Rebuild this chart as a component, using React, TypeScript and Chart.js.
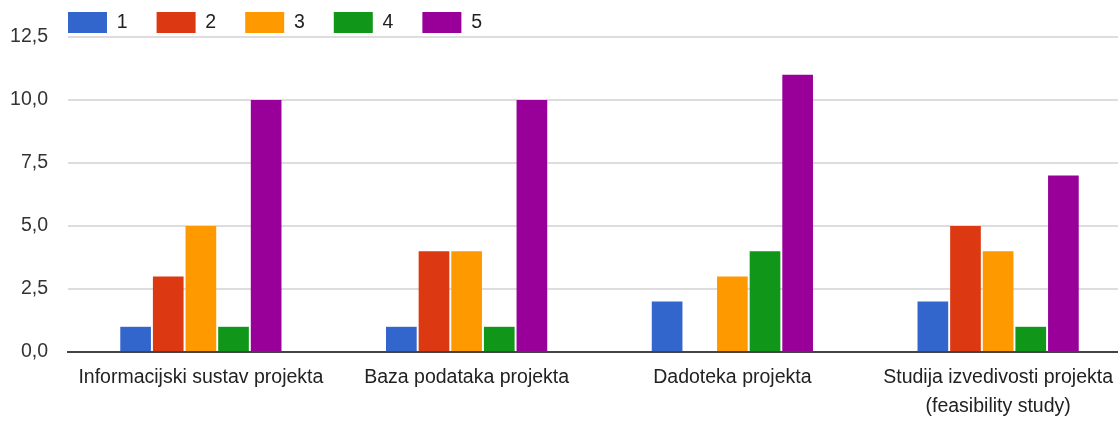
import React, { useEffect, useRef } from "react";
import { Chart, registerables } from "chart.js";

Chart.register(...registerables);

const categories: (string | string[])[] = [
  "Informacijski sustav projekta",
  "Baza podataka projekta",
  "Dadoteka projekta",
  ["Studija izvedivosti projekta", "(feasibility study)"],
];
const seriesNames = ["1", "2", "3", "4", "5"];
const series1 = [1, 1, 2, 2];
const series2 = [3, 4, 0, 5];
const series3 = [5, 4, 3, 4];
const series4 = [1, 1, 4, 1];
const series5 = [10, 10, 11, 7];
const colors = ["#3366cc", "#dc3912", "#ff9900", "#109618", "#990099"];
const yTicks = [0, 2.5, 5, 7.5, 10, 12.5];

const FONT = "'Liberation Sans', Arial, sans-serif";
const FS = 19.5;
const LEGEND_PAD = 29;

const legendFit = {
  id: "legendFit",
  beforeInit(chart: any) {
    const legend = chart.legend;
    if (!legend) return;
    const origFit = legend.fit;
    legend.fit = function () {
      origFit.call(this);
      this.height = 37;
    };
    const origDraw = legend._draw;
    legend._draw = function () {
      const ctx = this.ctx;
      ctx.save();
      ctx.translate(68 - LEGEND_PAD - this.left, 12 - LEGEND_PAD - this.top);
      origDraw.call(this);
      ctx.restore();
    };
  },
};

export default function App() {
  const ref = useRef<HTMLCanvasElement>(null);
  useEffect(() => {
    document.body.style.margin = "0";
    const canvas = ref.current!;
    const all = [series1, series2, series3, series4, series5];
    const chart = new Chart(canvas, {
      type: "bar",
      data: {
        labels: categories,
        datasets: all.map((d, i) => ({
          label: seriesNames[i],
          data: d,
          backgroundColor: colors[i],
          borderWidth: 0,
          categoryPercentage: 0.614,
          barPercentage: 0.94,
        })),
      },
      options: {
        responsive: false,
        animation: false,
        layout: { padding: 0 },
        plugins: {
          legend: {
            position: "top",
            align: "start",
            labels: {
              boxWidth: 39,
              boxHeight: 21,
              padding: LEGEND_PAD,
              color: "#222",
              font: { family: FONT, size: FS },
            },
          },
          tooltip: { enabled: false },
        },
        scales: {
          x: {
            grid: { display: false, drawTicks: false },
            border: { display: true, color: "#444", width: 2 },
            ticks: {
              color: "#222",
              padding: 11,
              font: { family: FONT, size: FS, lineHeight: 1.5 },
              maxRotation: 0,
              autoSkip: false,
            },
            afterFit(scale: any) {
              scale.height = 69;
            },
          },
          y: {
            min: 0,
            max: 12.5,
            afterBuildTicks(scale: any) {
              scale.ticks = yTicks.map((v) => ({ value: v }));
            },
            grid: {
              drawTicks: false,
              color: (ctx: any) => (ctx.tick && ctx.tick.value === 0 ? "#444" : "#dddddd"),
              lineWidth: 2,
            },
            border: { display: false },
            ticks: {
              color: "#333",
              padding: 20,
              font: { family: FONT, size: FS },
              callback: (v: any) => Number(v).toFixed(1).replace(".", ","),
            },
            afterFit(scale: any) {
              scale.width = 68;
            },
          },
        },
      },
      plugins: [legendFit],
    });
    return () => chart.destroy();
  }, []);
  return (
    <div style={{ width: 1118, height: 421, overflow: "hidden", background: "#fff" }}>
      <canvas ref={ref} width={1131} height={421} style={{ display: "block" }} />
    </div>
  );
}
